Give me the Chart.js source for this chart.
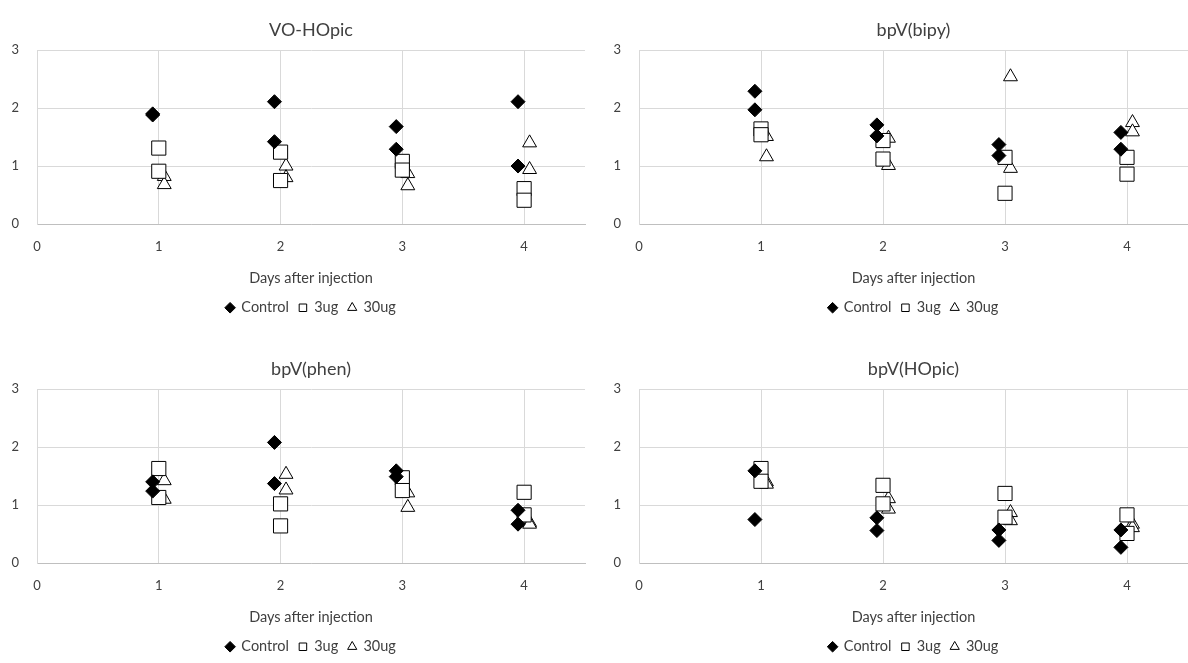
<!DOCTYPE html>
<html>
<head>
<meta charset="utf-8">
<script src="https://cdn.jsdelivr.net/npm/chart.js@4/dist/chart.umd.min.js"></script>
<style>
  body { margin: 0; background: #fff; }
  .wrap { position: relative; width: 1188px; height: 663px; overflow: hidden; }
  .panel { position: absolute; width: 594px; height: 325px; }
</style>
</head>
<body>
<div class="wrap">
  <div class="panel" style="left:0;top:0"><canvas id="c0"></canvas></div>
  <div class="panel" style="left:594px;top:0"><canvas id="c1"></canvas></div>
  <div class="panel" style="left:0;top:339px"><canvas id="c2"></canvas></div>
  <div class="panel" style="left:594px;top:339px"><canvas id="c3"></canvas></div>
</div>
<script>
// days on x, two animals per group
const days = [1, 2, 3, 4];
const xTicks = [0, 1, 2, 3, 4];
const yTicks = [0, 1, 2, 3];
const titles = ["VO-HOpic", "bpV(bipy)", "bpV(phen)", "bpV(HOpic)"];
const seriesNames = ["Control", "3ug", "30ug"];

// VO-HOpic
const voControl = [[1.90, 1.88], [2.11, 1.42], [1.68, 1.29], [2.11, 1.00]];
const vo3ug     = [[1.31, 0.91], [1.24, 0.75], [1.08, 0.93], [0.61, 0.41]];
const vo30ug    = [[0.82, 0.68], [1.00, 0.80], [0.87, 0.66], [1.40, 0.94]];

// bpV(bipy)
const bipyControl = [[2.29, 1.97], [1.71, 1.52], [1.37, 1.18], [1.58, 1.29]];
const bipy3ug     = [[1.64, 1.54], [1.44, 1.12], [1.15, 0.53], [1.15, 0.86]];
const bipy30ug    = [[1.51, 1.16], [1.48, 1.01], [2.54, 0.96], [1.75, 1.59]];

// bpV(phen)
const phenControl = [[1.40, 1.24], [2.08, 1.37], [1.59, 1.49], [0.91, 0.67]];
const phen3ug     = [[1.63, 1.13], [1.02, 0.64], [1.47, 1.25], [1.22, 0.83]];
const phen30ug    = [[1.42, 1.10], [1.53, 1.26], [1.21, 0.96], [0.70, 0.67]];

// bpV(HOpic)
const hopicControl = [[1.59, 0.75], [0.78, 0.56], [0.57, 0.39], [0.57, 0.27]];
const hopic3ug     = [[1.63, 1.41], [1.34, 1.02], [1.20, 0.79], [0.83, 0.51]];
const hopic30ug    = [[1.40, 1.36], [1.11, 0.93], [0.87, 0.73], [0.67, 0.61]];

const panels = [
  [voControl, vo3ug, vo30ug],
  [bipyControl, bipy3ug, bipy30ug],
  [phenControl, phen3ug, phen30ug],
  [hopicControl, hopic3ug, hopic30ug]
];

// small horizontal shift so the three groups don't sit on each other
const shift = [-0.05, 0, 0.045];
const styles = [
  { pointStyle: "rectRot", radius: 7, bg: "#000000" },
  { pointStyle: "rect", radius: 10, bg: "#ffffff" },
  { pointStyle: "triangle", radius: 8, bg: "#ffffff" }
];

const font = "Lato, 'Liberation Sans', sans-serif";

// title and legend centred over the plot, not over the whole canvas
const centerOnPlot = {
  id: "centerOnPlot",
  afterLayout(chart) {
    const a = chart.chartArea;
    chart.titleBlock.left = a.left;
    chart.titleBlock.right = a.right;
    chart.legend.left = a.left;
    chart.legend.right = a.right;
  }
};

function toPoints(vals, s) {
  const pts = [];
  vals.forEach((pair, i) => {
    pair.forEach(v => pts.push({ x: days[i] + shift[s], y: v }));
  });
  return pts;
}

panels.forEach((series, idx) => {
  const right = idx % 2 === 1;
  new Chart(document.getElementById("c" + idx), {
    type: "scatter",
    plugins: [centerOnPlot],
    data: {
      datasets: series.map((vals, s) => ({
        label: seriesNames[s],
        data: toPoints(vals, s),
        pointStyle: styles[s].pointStyle,
        pointRadius: styles[s].radius,
        pointHoverRadius: styles[s].radius,
        backgroundColor: styles[s].bg,
        borderColor: "#000000",
        borderWidth: 1
      }))
    },
    options: {
      responsive: true,
      maintainAspectRatio: false,
      animation: false,
      layout: {
        autoPadding: false,
        padding: { left: right ? 8 : 0, right: right ? 0 : 9, bottom: 0 }
      },
      plugins: {
        title: {
          display: true,
          text: titles[idx],
          color: "#404040",
          font: { family: font, size: 18, weight: "normal" },
          padding: { top: 19, bottom: 9.5 }
        },
        legend: {
          position: "bottom",
          labels: {
            usePointStyle: true,
            boxWidth: 8,
            boxHeight: 7.5,
            padding: 10,
            color: "#404040",
            font: { family: font, size: 14.5 }
          }
        },
        tooltip: { enabled: false }
      },
      scales: {
        x: {
          type: "linear",
          min: 0,
          max: 4.5,
          afterBuildTicks: axis => { axis.ticks = xTicks.map(v => ({ value: v })); },
          grid: { color: "#d9d9d9", drawTicks: false },
          border: { color: "#bfbfbf" },
          ticks: { color: "#404040", padding: 15, font: { family: font, size: 13 } },
          title: {
            display: true,
            text: "Days after injection",
            color: "#404040",
            font: { family: font, size: 14.5 },
            padding: { top: 0, bottom: 3.5 }
          }
        },
        y: {
          min: 0,
          max: 3,
          afterBuildTicks: axis => { axis.ticks = yTicks.map(v => ({ value: v })); },
          afterFit: axis => { axis.width = 37; },
          grid: { color: "#d9d9d9", drawTicks: false },
          border: { color: "#d9d9d9" },
          ticks: { color: "#404040", padding: 18, font: { family: font, size: 13 } }
        }
      }
    }
  });
});
</script>
</body>
</html>
